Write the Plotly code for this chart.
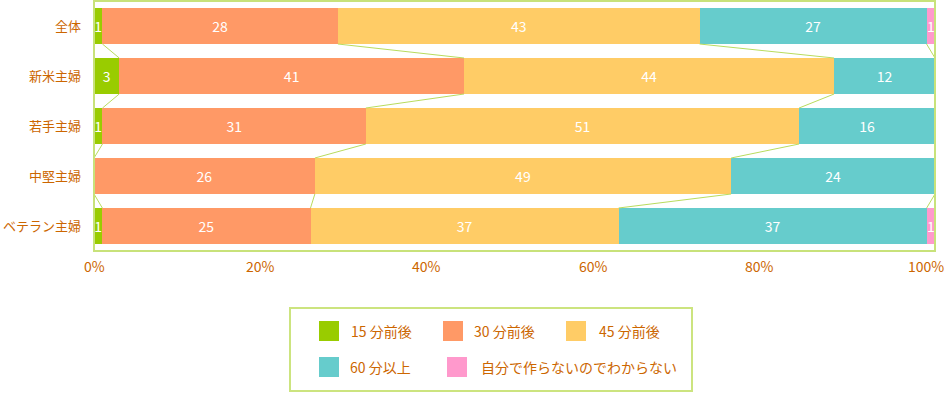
import numpy as np
import plotly.graph_objects as go

categories = ["全体", "新米主婦", "若手主婦", "中堅主婦", "ベテラン主婦"]
series_names = ["15 分前後", "30 分前後", "45 分前後", "60 分以上", "自分で作らないのでわからない"]
v15 = [1, 3, 1, 0, 1]
v30 = [28, 41, 31, 26, 25]
v45 = [43, 44, 51, 49, 37]
v60 = [27, 12, 16, 24, 37]
vna = [1, 0, 0, 0, 1]
tick_values = [0, 20, 40, 60, 80, 100]
tick_labels = ["0%", "20%", "40%", "60%", "80%", "100%"]

colors = ["#99cc00", "#ff9966", "#ffcc66", "#66cccc", "#ff99cc"]
TXT = "#cc6600"
FONT = "Noto Sans CJK JP"

series = [v15, v30, v45, v60, vna]
ypos = list(range(len(categories)))
BAR_W = 0.72

fig = go.Figure()
for name, vals, col in zip(series_names, series, colors):
    fig.add_trace(go.Bar(
        y=ypos, x=vals, name=name, orientation="h",
        marker=dict(color=col, line=dict(width=0)),
        width=BAR_W,
        text=[str(v) if v else "" for v in vals],
        textposition="inside", insidetextanchor="middle",
        textfont=dict(color="white", size=14, family=FONT),
        hoverinfo="skip", showlegend=False,
    ))

# connector lines between stacked boundaries
arr = np.array(series, dtype=float)
pct = arr / arr.sum(axis=0) * 100
cum = np.cumsum(pct, axis=0)
lx, ly = [], []
for k in range(len(series) - 1):
    for i in range(len(categories) - 1):
        lx += [cum[k, i], cum[k, i + 1], None]
        ly += [ypos[i] + BAR_W / 2, ypos[i + 1] - BAR_W / 2, None]
fig.add_trace(go.Scatter(x=lx, y=ly, mode="lines",
                         line=dict(color="#b9dc5e", width=1),
                         hoverinfo="skip", showlegend=False))

W, H = 946, 393
L, R, T, B = 94, 11, 1, 142
PW, PH = W - L - R, H - T - B


def px_x(px):
    return (px - L) / PW


def px_y(py):
    return (H - B - py) / PH


fig.update_layout(
    width=W, height=H, barmode="stack", barnorm="percent",
    margin=dict(l=L, r=R, t=T, b=B, autoexpand=False),
    plot_bgcolor="white", paper_bgcolor="white",
    font=dict(family=FONT, color=TXT, size=13),
    uniformtext=dict(mode="show", minsize=14),
    xaxis=dict(range=[0, 100], showgrid=False, zeroline=False,
               showticklabels=False, ticks=""),
    yaxis=dict(range=[4.5, -0.5], tickvals=ypos, ticktext=categories,
               showgrid=False, zeroline=False, ticks="", automargin=False,
               ticklabelstandoff=12,
               tickfont=dict(size=13, color=TXT, family=FONT)),
    showlegend=False,
)

# plot frame
fig.add_shape(type="rect", xref="paper", yref="paper", x0=0, x1=1, y0=0, y1=1,
              line=dict(color="#c8e27a", width=2), layer="above")

# x tick labels
for v, t in zip(tick_values, tick_labels):
    fig.add_annotation(x=v, xref="x", y=px_y(266), yref="paper", text=t,
                       showarrow=False, xanchor="center", yanchor="middle",
                       xshift=-v * 0.09, font=dict(size=14, color=TXT, family=FONT))

# custom legend box
fig.add_shape(type="rect", xref="paper", yref="paper",
              x0=px_x(290), x1=px_x(692), y0=px_y(308), y1=px_y(391),
              line=dict(color="#cce47f", width=2), fillcolor="white")
legend_slots = [(319, 349, 331), (443, 472, 331), (566, 597, 331),
                (319, 348, 367), (447, 479, 367)]
for (sx, tx, cy), name, col in zip(legend_slots, series_names, colors):
    fig.add_shape(type="rect", xref="paper", yref="paper",
                  x0=px_x(sx), x1=px_x(sx + 20), y0=px_y(cy + 10), y1=px_y(cy - 10),
                  line=dict(width=0), fillcolor=col)
    fig.add_annotation(x=px_x(tx), xref="paper", y=px_y(cy), yref="paper",
                       text=name, showarrow=False, xanchor="left", yanchor="middle",
                       font=dict(size=14, color=TXT, family=FONT))

fig.write_html("out.html", config={"displayModeBar": False},
               post_script="document.body.style.margin='0';document.body.style.overflow='hidden';")
